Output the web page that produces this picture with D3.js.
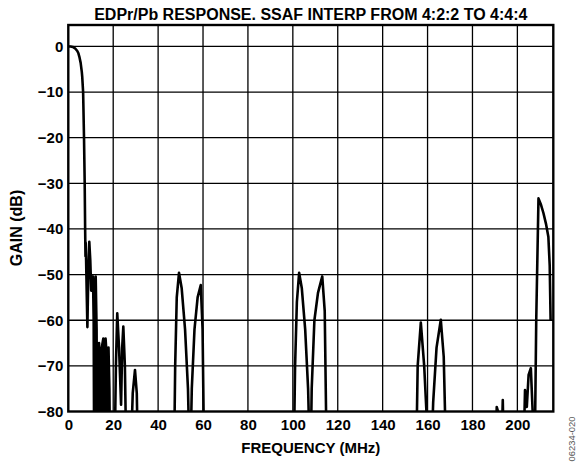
<!DOCTYPE html>
<html>
<head>
<meta charset="utf-8">
<script src="https://cdn.jsdelivr.net/npm/d3@7"></script>
<style>
  body { margin: 0; background: #fff; }
  text { font-family: "Liberation Sans", Arial, sans-serif; font-weight: bold; fill: #000; }
</style>
</head>
<body>
<svg id="chart" width="576" height="464"></svg>
<script>
// frequency (MHz) / gain (dB); values under -80 are clipped
const freq = [0, 1, 2, 3, 4, 4.5, 5, 5.5, 6, 6.2, 6.6, 7.0, 7.3, 7.5, 7.65, 7.75, 7.9,
  8.2, 8.5, 8.9, 9.35, 9.8, 10.2, 10.6, 11.0, 11.3, 11.55, 11.8, 12.2, 12.6, 12.9,
  13.3, 13.7, 14.1, 14.4, 14.9, 15.6, 16.0, 16.6, 17.1, 17.5, 17.9, 18.3, 18.7,
  20.5, 21.2, 21.8, 22.6, 23.5, 24.0, 24.5, 25.2, 26.0, 27.5, 28.7, 29.7, 30.5, 31.2,
  47.0, 47.6, 48.3, 49.3, 50.5, 52.0, 53.3, 54.2, 55.0, 56.2, 57.6, 59.0, 59.8, 60.6,
  100.3, 101.0, 101.8, 102.8, 104.0, 105.5, 106.8, 107.8, 108.4, 109.6, 111.2, 113.1, 114.2, 115.2,
  154.8, 155.6, 157.0, 158.5, 160.0, 161.4, 162.5, 164.0, 165.9, 167.2, 168.5,
  190.2, 190.8, 191.4, 192.6, 193.5, 194.2, 202.5, 203.4, 204.2, 205.0, 206.0, 206.8, 207.6,
  208.4, 209.4, 210.4, 211.6, 212.8, 213.8, 214.4, 214.8];
const gain = [0, 0, -0.1, -0.4, -1.0, -1.5, -2.4, -3.6, -5.5, -6.6, -10, -20, -30, -40, -46, -43, -46,
  -54, -61.5, -50, -42.8, -47, -53.5, -51, -50.4, -60, -95, -60, -50.4, -62, -95,
  -72, -65, -72, -95, -66, -64, -95, -64, -68, -95, -66, -75, -95,
  -95, -70, -58.5, -66, -78.5, -66, -61.4, -70, -95, -95, -76, -70.9, -76, -95,
  -95, -70, -55, -49.6, -53, -62, -75, -95, -75, -62, -55, -52.3, -62, -95,
  -95, -70, -56, -49.6, -53, -62, -75, -95, -75, -60, -54, -50.4, -58, -95,
  -95, -70, -60.5, -70, -85, -95, -78, -66, -59.9, -68, -95,
  -95, -79, -80, -95, -77.5, -95, -95, -75.3, -79, -72, -70.5, -80, -95,
  -60, -33.3, -34.5, -36.5, -39, -41.7, -48, -60];

const xTicks = [0, 20, 40, 60, 80, 100, 120, 140, 160, 180, 200];
const yTicks = [0, -10, -20, -30, -40, -50, -60, -70, -80];

const plotLeft = 68.3, plotRight = 553.3, plotTop = 25, plotBottom = 411.5;

const svg = d3.select("#chart");

const x = d3.scaleLinear().domain([0, 216]).range([plotLeft, plotRight]);
const y = d3.scaleLinear().domain([-80, 4.7]).range([plotBottom, plotTop]);

// grid
svg.append("g").selectAll("line")
  .data(xTicks.filter(d => d > 0))
  .join("line")
  .attr("x1", d => x(d)).attr("x2", d => x(d))
  .attr("y1", plotTop).attr("y2", plotBottom)
  .attr("stroke", "#000").attr("stroke-width", 1.3);
svg.append("g").selectAll("line")
  .data(yTicks.filter(d => d > -80))
  .join("line")
  .attr("x1", plotLeft).attr("x2", plotRight)
  .attr("y1", d => y(d)).attr("y2", d => y(d))
  .attr("stroke", "#000").attr("stroke-width", 1.3);

// axes (labels only)
const xAxis = svg.append("g")
  .attr("transform", "translate(0," + plotBottom + ")")
  .call(d3.axisBottom(x).tickValues(xTicks).tickSize(0).tickPadding(8));
const yAxis = svg.append("g")
  .attr("transform", "translate(" + plotLeft + ",0)")
  .call(d3.axisLeft(y).tickValues(yTicks).tickSize(0).tickPadding(5));
[xAxis, yAxis].forEach(g => {
  g.select(".domain").remove();
  g.selectAll("text").style("font-size", "15px").style("font-family", "'Liberation Sans', Arial, sans-serif").style("font-weight", "bold");
});

// curve
svg.append("clipPath").attr("id", "plotclip")
  .append("rect").attr("x", plotLeft).attr("y", plotTop)
  .attr("width", plotRight - plotLeft).attr("height", plotBottom - plotTop);

const pts = freq.map((f, i) => [f, gain[i]]);
svg.append("path")
  .datum(pts)
  .attr("clip-path", "url(#plotclip)")
  .attr("fill", "none")
  .attr("stroke", "#000")
  .attr("stroke-width", 2.6)
  .attr("stroke-linejoin", "round")
  .attr("d", d3.line().x(d => x(d[0])).y(d => y(d[1])));

// frame
svg.append("rect")
  .attr("x", plotLeft).attr("y", plotTop)
  .attr("width", plotRight - plotLeft).attr("height", plotBottom - plotTop)
  .attr("fill", "none").attr("stroke", "#000").attr("stroke-width", 2.4);

// titles
svg.append("text")
  .attr("x", (plotLeft + plotRight) / 2).attr("y", 19.5)
  .attr("text-anchor", "middle")
  .style("font-size", "16px")
  .text("EDPr/Pb RESPONSE. SSAF INTERP FROM 4:2:2 TO 4:4:4");
svg.append("text")
  .attr("x", (plotLeft + plotRight) / 2).attr("y", 453)
  .attr("text-anchor", "middle")
  .style("font-size", "15px")
  .text("FREQUENCY (MHz)");
svg.append("text")
  .attr("transform", "translate(22,228) rotate(-90)")
  .attr("text-anchor", "middle")
  .style("font-size", "16px")
  .text("GAIN (dB)");
svg.append("text")
  .attr("transform", "translate(575,439) rotate(-90)")
  .attr("text-anchor", "middle")
  .style("font-size", "9.4px")
  .style("font-weight", "normal")
  .style("fill", "#555")
  .text("06234-020");
</script>
</body>
</html>
